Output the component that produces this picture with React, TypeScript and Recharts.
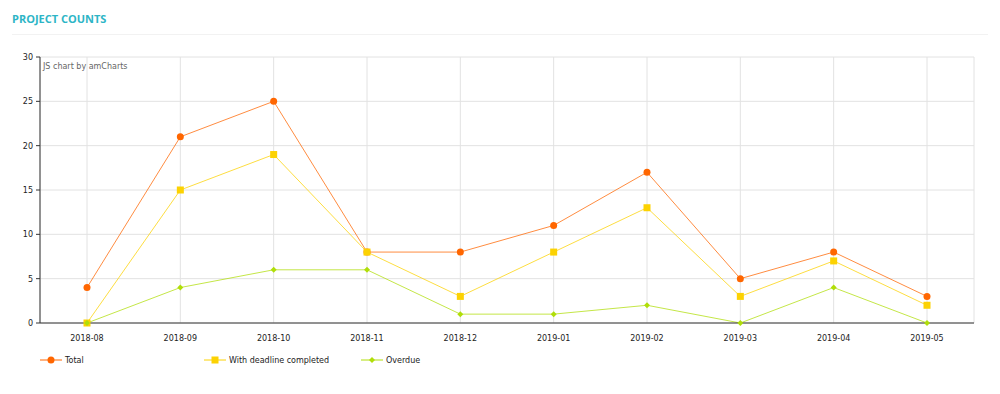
import React from 'react';
import {
  LineChart,
  Line,
  XAxis,
  YAxis,
  CartesianGrid,
} from 'recharts';

const months = [
  '2018-08', '2018-09', '2018-10', '2018-11', '2018-12',
  '2019-01', '2019-02', '2019-03', '2019-04', '2019-05',
];
const totalCounts = [4, 21, 25, 8, 8, 11, 17, 5, 8, 3];
const completedCounts = [0, 15, 19, 8, 3, 8, 13, 3, 7, 2];
const overdueCounts = [0, 4, 6, 6, 1, 1, 2, 0, 4, 0];
const yTicks = [0, 5, 10, 15, 20, 25, 30];

const data = months.map((month, i) => ({
  month,
  total: totalCounts[i],
  completed: completedCounts[i],
  overdue: overdueCounts[i],
}));

const FONT = 'Verdana, "DejaVu Sans", sans-serif';

const series = [
  { key: 'total', name: 'Total', color: '#FF6600', shape: 'circle' },
  { key: 'completed', name: 'With deadline completed', color: '#FCD202', shape: 'square' },
  { key: 'overdue', name: 'Overdue', color: '#B0DE09', shape: 'diamond' },
];

function Marker({ cx, cy, shape, color }: any) {
  if (cx == null || cy == null) return null;
  if (shape === 'square') {
    return <rect x={cx - 3.5} y={cy - 3.5} width={7} height={7} fill={color} />;
  }
  if (shape === 'diamond') {
    return (
      <polygon
        points={`${cx},${cy - 3} ${cx + 3},${cy} ${cx},${cy + 3} ${cx - 3},${cy}`}
        fill={color}
      />
    );
  }
  return <circle cx={cx} cy={cy} r={3.5} fill={color} />;
}

const legendPositions = [40, 204, 361];

export default function App() {
  return (
    <div
      style={{
        position: 'absolute',
        left: 0,
        top: 0,
        width: 1000,
        height: 394,
        background: '#fff',
        fontFamily: FONT,
      }}
    >
      <div
        style={{
          position: 'absolute',
          left: 12,
          top: 11,
          fontFamily: '"Open Sans", sans-serif',
          fontWeight: 700,
          fontSize: 11,
          lineHeight: '15px',
          color: '#2DB5C6',
        }}
      >
        PROJECT COUNTS
      </div>
      <div
        style={{
          position: 'absolute',
          left: 12,
          top: 34,
          width: 976,
          height: 1,
          background: '#f2f2f2',
        }}
      />
      <div style={{ position: 'absolute', left: 0, top: 0 }}>
        <LineChart
          width={1000}
          height={394}
          data={data}
          margin={{ top: 57, right: 26, bottom: 41, left: 0 }}
        >
          <CartesianGrid stroke="#e2e2e2" strokeWidth={1} />
          <XAxis
            dataKey="month"
            height={30}
            stroke="#333"
            tickLine={false}
            padding={{ left: 47, right: 47 }}
            tick={{ fill: '#222', fontSize: 8, fontFamily: FONT }}
            tickMargin={6}
          />
          <YAxis
            width={40}
            domain={[0, 30]}
            ticks={yTicks}
            stroke="#333"
            tickSize={4}
            tick={{ fill: '#222', fontSize: 8, fontFamily: FONT }}
            tickMargin={3}
          />
          {series.map((s) => (
            <Line
              key={s.key}
              type="linear"
              dataKey={s.key}
              name={s.name}
              stroke={s.color}
              strokeOpacity={0.75}
              strokeWidth={1}
              isAnimationActive={false}
              dot={(props: any) => (
                <Marker key={`${s.key}-${props.index}`} cx={props.cx} cy={props.cy} shape={s.shape} color={s.color} />
              )}
              activeDot={false}
            />
          ))}
          <text x={43} y={69} fontSize={8} fill="#666" fontFamily={FONT}>
            JS chart by amCharts
          </text>
        </LineChart>
      </div>
      {series.map((s, i) => (
        <div
          key={s.key}
          style={{
            position: 'absolute',
            left: legendPositions[i],
            top: 353,
            display: 'flex',
            alignItems: 'center',
            fontSize: 8,
            color: '#222',
          }}
        >
          <svg width={22} height={14} style={{ marginRight: 3 }}>
            <line x1={0} y1={7} x2={22} y2={7} stroke={s.color} strokeWidth={1} />
            <Marker cx={11} cy={7} shape={s.shape} color={s.color} />
          </svg>
          <span>{s.name}</span>
        </div>
      ))}
    </div>
  );
}
